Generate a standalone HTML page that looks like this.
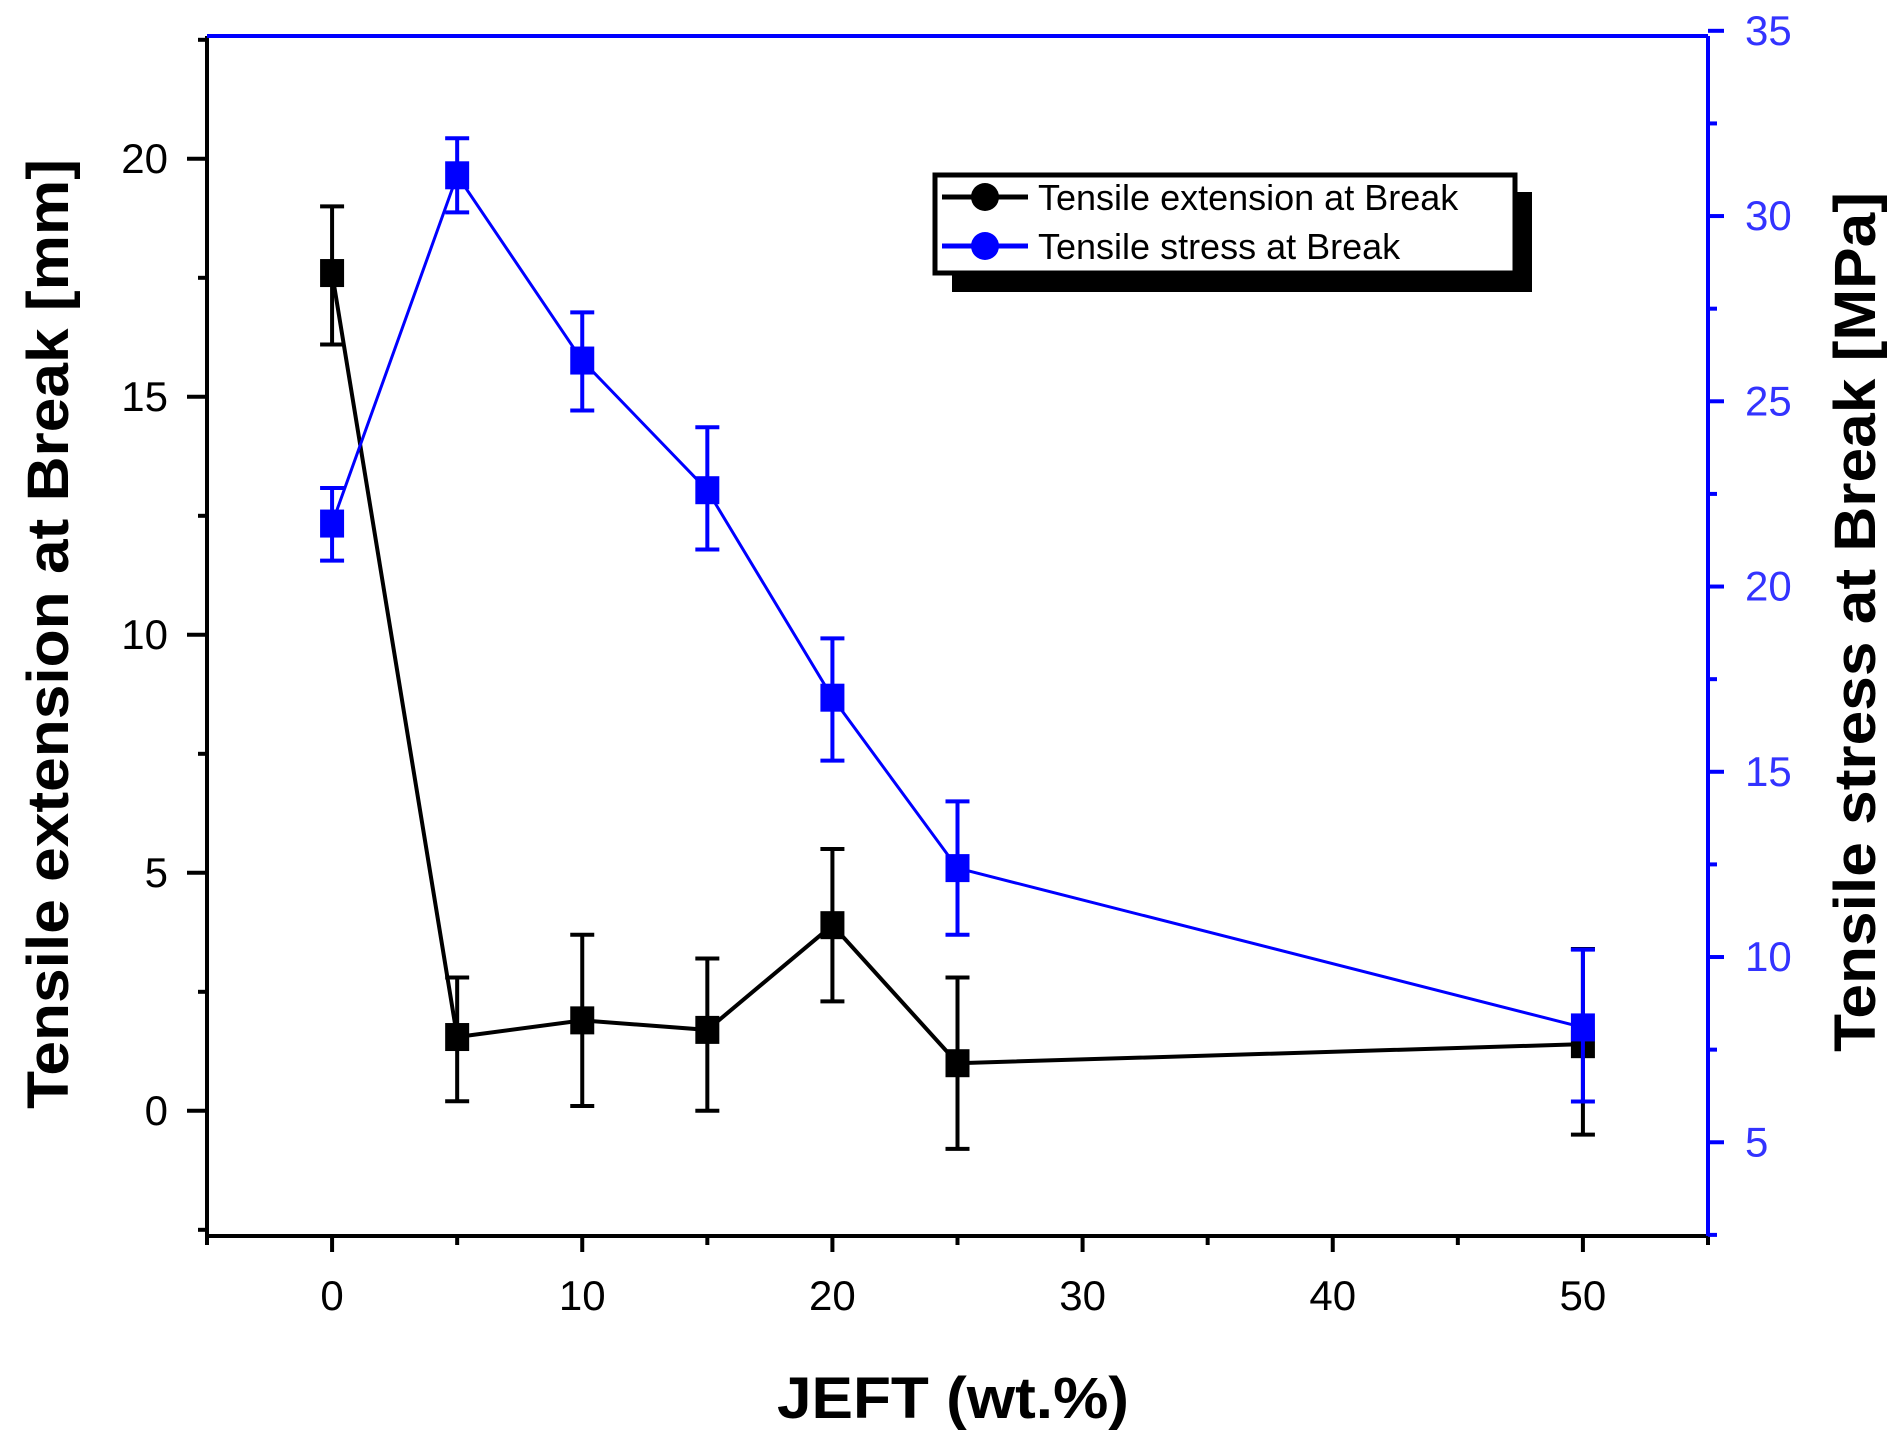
<!DOCTYPE html>
<html><head><meta charset="utf-8">
<style>html,body{margin:0;padding:0;background:#fff;}svg{display:block;}text{font-family:"Liberation Sans",Arial,sans-serif;}</style>
</head><body>
<svg id="chart" width="1904" height="1446" viewBox="0 0 1904 1446" xmlns="http://www.w3.org/2000/svg"></svg>
<script>
const categories = [0, 5, 10, 15, 20, 25, 50];
const extensionValues = [17.6, 1.55, 1.9, 1.7, 3.9, 1.0, 1.4];
const extensionLow = [16.1, 0.2, 0.1, 0.0, 2.3, -0.8, -0.5];
const extensionHigh = [19.0, 2.8, 3.7, 3.2, 5.5, 2.8, 3.4];
const stressValues = [21.7, 31.1, 26.1, 22.6, 17.0, 12.4, 8.1];
const stressLow = [20.7, 30.1, 24.75, 21.0, 15.3, 10.6, 6.1];
const stressHigh = [22.66, 32.1, 27.4, 24.3, 18.6, 14.2, 10.2];
const xTickLabels = [0, 10, 20, 30, 40, 50];
const leftTickLabels = [0, 5, 10, 15, 20];
const rightTickLabels = [5, 10, 15, 20, 25, 30, 35];

const NS = "http://www.w3.org/2000/svg";
const svg = document.getElementById('chart');
const L = 207, R = 1708, T = 36, B = 1236;
const X0 = -5, X1 = 55, YL0 = -2.63, YL1 = 22.58, YR0 = 2.47, YR1 = 34.86;
const sx = v => L + (v - X0) / (X1 - X0) * (R - L);
const syL = v => B - (v - YL0) / (YL1 - YL0) * (B - T);
const syR = v => B - (v - YR0) / (YR1 - YR0) * (B - T);
function el(tag, attrs, parent) {
  const e = document.createElementNS(NS, tag);
  for (const k in attrs) e.setAttribute(k, attrs[k]);
  (parent || svg).appendChild(e);
  return e;
}
let a;
a = el('line', {x1: L, y1: B, x2: R, y2: B, stroke: '#000', 'stroke-width': 4});
 
a = el('line', {x1: L, y1: T, x2: L, y2: B, stroke: '#000', 'stroke-width': 4});
 
a = el('line', {x1: L, y1: T, x2: R, y2: T, stroke: '#0000ff', 'stroke-width': 4});
 
a = el('line', {x1: R, y1: T, x2: R, y2: B, stroke: '#0000ff', 'stroke-width': 4});
 

for (let v = -5; v <= 55; v += 5) {
  const major = v % 10 === 0;
  el('line', {x1: sx(v), y1: B, x2: sx(v), y2: B + (major ? 16 : 9), stroke: '#000', 'stroke-width': 4});
}
xTickLabels.forEach(v => {
  const t = el('text', {x: sx(v), y: 1310, 'font-size': 42, 'text-anchor': 'middle', fill: '#000'});
  t.textContent = v;
   
});
for (let v = -2.5; v <= 22.5; v += 2.5) {
  const major = Math.abs(v % 5) < 1e-6;
  el('line', {x1: L, y1: syL(v), x2: L - (major ? 20 : 9), y2: syL(v), stroke: '#000', 'stroke-width': 4});
}
leftTickLabels.forEach(v => {
  const t = el('text', {x: 168, y: syL(v) + 14, 'font-size': 42, 'text-anchor': 'end', fill: '#000'});
  t.textContent = v;
   
});
for (let v = 2.5; v <= 35; v += 2.5) {
  const major = Math.abs(v % 5) < 1e-6;
  el('line', {x1: R, y1: syR(v), x2: R + (major ? 16 : 9), y2: syR(v), stroke: '#0000ff', 'stroke-width': 4});
}
rightTickLabels.forEach(v => {
  const t = el('text', {x: 1745, y: syR(v) + 14, 'font-size': 42, 'text-anchor': 'start', fill: '#3333ff'});
  t.textContent = v;
   
});

let tt = el('text', {x: 0, y: 0, 'font-size': 58, 'font-weight': 'bold', 'text-anchor': 'middle', fill: '#000', transform: 'translate(68,634) rotate(-90)', textLength: 950, lengthAdjust: 'spacingAndGlyphs'});
tt.textContent = 'Tensile extension at Break [mm]';
 
tt = el('text', {x: 0, y: 0, 'font-size': 58, 'font-weight': 'bold', 'text-anchor': 'middle', fill: '#000', transform: 'translate(1875,622) rotate(-90)', textLength: 860, lengthAdjust: 'spacingAndGlyphs'});
tt.textContent = 'Tensile stress at Break [MPa]';
 
tt = el('text', {x: 953, y: 1418, 'font-size': 58, 'font-weight': 'bold', 'text-anchor': 'middle', fill: '#000', textLength: 352, lengthAdjust: 'spacingAndGlyphs'});
tt.textContent = 'JEFT (wt.%)';
 

function series(vals, lo, hi, sy, color, name, lw) {
  const g = el('g', {});
   
  const pts = categories.map((c, i) => sx(c) + ',' + sy(vals[i])).join(' ');
  el('polyline', {points: pts, fill: 'none', stroke: color, 'stroke-width': lw}, g);
  categories.forEach((c, i) => {
    const x = sx(c);
    const eb = el('path', {d: `M${x},${sy(lo[i])}V${sy(hi[i])}M${x-12},${sy(lo[i])}H${x+12}M${x-12},${sy(hi[i])}H${x+12}`, stroke: color, 'stroke-width': 4, fill: 'none'}, g);
     
    const m = el('rect', {x: x - 12, y: sy(vals[i]) - 14, width: 24, height: 28, fill: color}, g);
     
  });
}
series(extensionValues, extensionLow, extensionHigh, syL, '#000', 'extension', 4);
series(stressValues, stressLow, stressHigh, syR, '#0000ff', 'stress', 3);

const lg = el('g', {});
 
el('rect', {x: 952, y: 192, width: 580, height: 100, fill: '#000'}, lg);
el('rect', {x: 935, y: 175, width: 580, height: 98, fill: '#fff', stroke: '#000', 'stroke-width': 5}, lg);
[['Tensile extension at Break', '#000', 197], ['Tensile stress at Break', '#0000ff', 246]].forEach(([lab, c, y]) => {
  const e = el('g', {}, lg);
   
  el('line', {x1: 942, y1: y, x2: 1028, y2: y, stroke: c, 'stroke-width': 5}, e);
  el('circle', {cx: 985, cy: y, r: 14, fill: c}, e);
  const t = el('text', {x: 1038, y: y + 13, 'font-size': 36, fill: '#000'}, e);
  t.textContent = lab;
});
</script>
</body></html>
